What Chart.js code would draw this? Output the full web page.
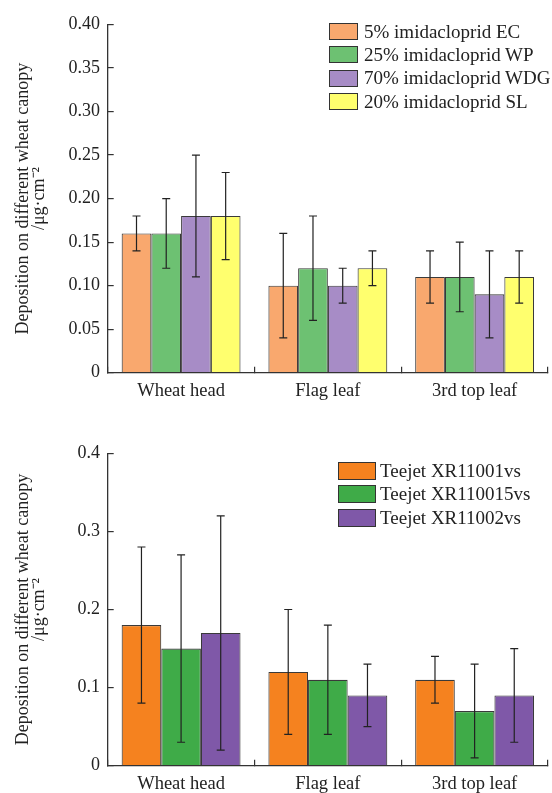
<!DOCTYPE html>
<html>
<head>
<meta charset="utf-8">
<script src="https://cdn.jsdelivr.net/npm/chart.js@4.4.1/dist/chart.umd.min.js"></script>
<style>
  body { margin: 0; background: #fff; width: 552px; height: 793px; position: relative; overflow: hidden; font-family: "Liberation Serif", "Times New Roman", serif; }
  .panel { position: absolute; left: 0; }
  .legend { position: absolute; font-size: 19px; color: #222; }
  .legend-row { display: flex; align-items: center; white-space: nowrap; }
  .legend-box { border: 1.3px solid #333; box-sizing: border-box; }
</style>
</head>
<body>
<div class="panel" style="top:0"><canvas id="chartA" width="552" height="400"></canvas></div>
<div class="panel" style="top:400px"><canvas id="chartB" width="552" height="393"></canvas></div>
<div class="legend" id="legendA" style="left:329px; top:20px"></div>
<div class="legend" id="legendB" style="left:338px; top:458.7px"></div>

<script>
// Categories
const categories = ['Wheat head', 'Flag leaf', '3rd top leaf'];

// Panel A - formulations
const formLabels = ['5% imidacloprid EC', '25% imidacloprid WP', '70% imidacloprid WDG', '20% imidacloprid SL'];
const formColors = ['#f9a86e', '#6dc172', '#a78cc6', '#ffff6e'];
const ecMean = [0.16, 0.10, 0.11];
const ecLow = [0.14, 0.04, 0.08];
const ecHigh = [0.18, 0.16, 0.14];
const wpMean = [0.16, 0.12, 0.11];
const wpLow = [0.12, 0.06, 0.07];
const wpHigh = [0.20, 0.18, 0.15];
const wdgMean = [0.18, 0.10, 0.09];
const wdgLow = [0.11, 0.08, 0.04];
const wdgHigh = [0.25, 0.12, 0.14];
const slMean = [0.18, 0.12, 0.11];
const slLow = [0.13, 0.10, 0.08];
const slHigh = [0.23, 0.14, 0.14];
const ticksA = [0, 0.05, 0.10, 0.15, 0.20, 0.25, 0.30, 0.35, 0.40];

// Panel B - nozzles
const nozzleLabels = ['Teejet XR11001vs', 'Teejet XR110015vs', 'Teejet XR11002vs'];
const nozzleColors = ['#f5821f', '#3fab48', '#7f58a8'];
const xr1Mean = [0.18, 0.12, 0.11];
const xr1Low = [0.08, 0.04, 0.08];
const xr1High = [0.28, 0.20, 0.14];
const xr15Mean = [0.15, 0.11, 0.07];
const xr15Low = [0.03, 0.04, 0.01];
const xr15High = [0.27, 0.18, 0.13];
const xr2Mean = [0.17, 0.09, 0.09];
const xr2Low = [0.02, 0.05, 0.03];
const xr2High = [0.32, 0.13, 0.15];
const ticksB = [0, 0.1, 0.2, 0.3, 0.4];

const yTitle = ['Deposition on different wheat canopy', '/\u03bcg\u00b7cm\u207b\u00b2'];
const fontFamily = '"Liberation Serif", "Times New Roman", serif';
const inkColor = '#222';

// Error bars drawn from the y scale
const errorBars = {
  id: 'errorBars',
  afterDatasetsDraw(chart) {
    const ctx = chart.ctx;
    const y = chart.scales.y;
    ctx.save();
    ctx.strokeStyle = '#222';
    ctx.lineWidth = 1.2;
    chart.data.datasets.forEach((ds, i) => {
      chart.getDatasetMeta(i).data.forEach((bar, j) => {
        const top = y.getPixelForValue(ds.errHigh[j]);
        const bot = y.getPixelForValue(ds.errLow[j]);
        const x = bar.x;
        ctx.beginPath();
        ctx.moveTo(x, top); ctx.lineTo(x, bot);
        ctx.moveTo(x - 4, top); ctx.lineTo(x + 4, top);
        ctx.moveTo(x - 4, bot); ctx.lineTo(x + 4, bot);
        ctx.stroke();
      });
    });
    ctx.restore();
  }
};

function makeDataset(label, color, mean, low, high) {
  return {
    label,
    data: mean,
    errLow: low,
    errHigh: high,
    backgroundColor: color,
    borderColor: '#3a3a3a',
    borderWidth: 1.1,
    categoryPercentage: 0.81,
    barPercentage: 1
  };
}

function makeChart(id, datasets, yTicks, decimals, padTop) {
  const ctx = document.getElementById(id).getContext('2d');
  return new Chart(ctx, {
    type: 'bar',
    data: { labels: categories, datasets },
    plugins: [errorBars],
    options: {
      responsive: false,
      animation: false,
      layout: { padding: { top: padTop, right: 4, left: 0, bottom: 0 } },
      plugins: { legend: { display: false }, tooltip: { enabled: false } },
      scales: {
        x: {
          offset: true,
          grid: { offset: true, drawOnChartArea: false, tickLength: -6, color: '#333', lineWidth: 1.2 },
          border: { color: '#333', width: 1.3 },
          ticks: { color: inkColor, font: { family: fontFamily, size: 18.5 }, padding: 13 },
          afterFit(scale) { scale.height = 27.3; }
        },
        y: {
          min: 0,
          max: yTicks[yTicks.length - 1],
          afterBuildTicks(scale) { scale.ticks = yTicks.map(v => ({ value: v })); },
          grid: { drawOnChartArea: false, tickLength: -6, color: '#333', lineWidth: 1.2 },
          border: { color: '#333', width: 1.3 },
          ticks: {
            color: inkColor,
            font: { family: fontFamily, size: 18 },
            padding: 13.7,
            callback: v => v === 0 ? '0' : v.toFixed(decimals)
          },
          title: {
            display: true,
            text: yTitle,
            color: inkColor,
            font: { family: fontFamily, size: 18, lineHeight: 0.9 },
            padding: { top: 15, bottom: 0 }
          },
          afterFit(scale) { scale.width = 107.7; }
        }
      }
    }
  });
}

function buildLegend(id, labels, colors, boxW, boxH, rowH, gap) {
  const el = document.getElementById(id);
  labels.forEach((label, i) => {
    const row = document.createElement('div');
    row.className = 'legend-row';
    row.style.height = rowH + 'px';
    const box = document.createElement('span');
    box.className = 'legend-box';
    box.style.width = boxW + 'px';
    box.style.height = boxH + 'px';
    box.style.marginRight = gap + 'px';
    box.style.background = colors[i];
    const text = document.createElement('span');
    text.textContent = label;
    row.appendChild(box);
    row.appendChild(text);
    el.appendChild(row);
  });
}

makeChart('chartA', [
  makeDataset(formLabels[0], formColors[0], ecMean, ecLow, ecHigh),
  makeDataset(formLabels[1], formColors[1], wpMean, wpLow, wpHigh),
  makeDataset(formLabels[2], formColors[2], wdgMean, wdgLow, wdgHigh),
  makeDataset(formLabels[3], formColors[3], slMean, slLow, slHigh)
], ticksA, 2, 20.7);

makeChart('chartB', [
  makeDataset(nozzleLabels[0], nozzleColors[0], xr1Mean, xr1Low, xr1High),
  makeDataset(nozzleLabels[1], nozzleColors[1], xr15Mean, xr15Low, xr15High),
  makeDataset(nozzleLabels[2], nozzleColors[2], xr2Mean, xr2Low, xr2High)
], ticksB, 1, 53.3);

buildLegend('legendA', formLabels, formColors, 29, 17, 23.3, 6);
buildLegend('legendB', nozzleLabels, nozzleColors, 38, 18, 23.7, 4);
</script>
</body>
</html>
